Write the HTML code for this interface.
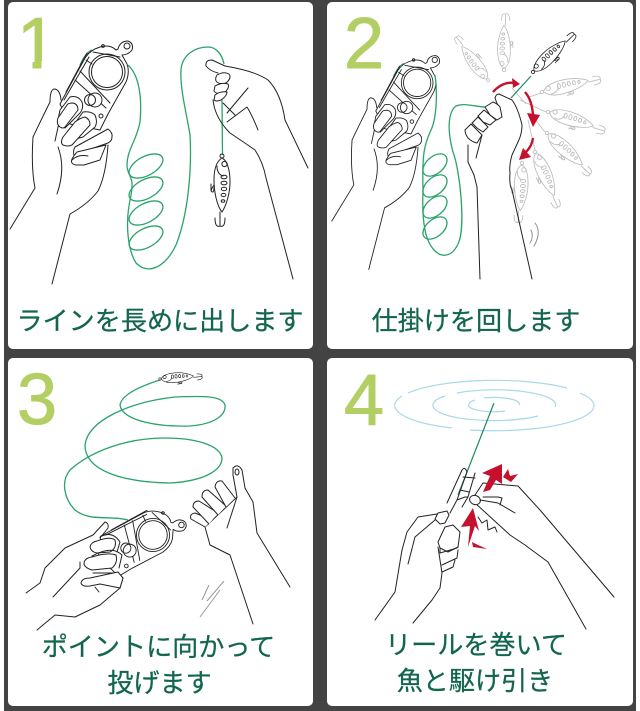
<!DOCTYPE html>
<html><head><meta charset="utf-8"><style>
html,body{margin:0;padding:0;background:#fff}
svg{display:block}
.k{fill:none;stroke:#222;stroke-width:1;stroke-linejoin:round;stroke-linecap:round}
.kf{fill:#fff;stroke:#222;stroke-width:1;stroke-linejoin:round}
.g{fill:none;stroke:#2aa36c;stroke-width:1.3}
.n{font-family:"Liberation Sans",sans-serif;font-size:72px;fill:#b3cf63;stroke:#b3cf63;stroke-width:1}
.t{font-family:"Liberation Sans","Noto Sans CJK JP",sans-serif;font-size:26.1px;fill:#12654f;stroke:#12654f;stroke-width:.25;text-anchor:middle}
.r{fill:#c5112e}
.rl{fill:none;stroke:#c5112e;stroke-width:2.4}
.w{fill:none;stroke:#a9d8e8;stroke-width:1.2}
</style></head><body>
<svg width="640" height="711" viewBox="0 0 640 711" xmlns="http://www.w3.org/2000/svg">
<defs>
<clipPath id="one"><path d="M0,0 H60 V61 H41.5 V75 H32.5 V61 H0 Z"/></clipPath>
<g id="lure">
 <path class="kf" d="M0,2 C6,5 8,16 8,26 C8,38 4,50 0,56 C-5,50 -8,36 -8,24 C-8,12 -5,5 0,2Z"/>
 <circle class="k" cx="0" cy="0" r="2"/>
 <circle class="k" cx="2.5" cy="8" r="2.6"/>
 <path class="k" d="M-5,10 Q-5,18 1,20"/>
 <ellipse class="k" cx="2" cy="21" rx="3" ry="1.8"/><ellipse class="k" cx="2" cy="27" rx="3" ry="1.8"/><ellipse class="k" cx="2" cy="33" rx="2.7" ry="1.7"/><ellipse class="k" cx="1.5" cy="39" rx="2.4" ry="1.6"/><ellipse class="k" cx="1" cy="45" rx="1.8" ry="1.3"/>
 <path class="k" d="M-8,29 Q-13,36 -9,36 Q-8,35 -8,31 M-11,28 L-11,35"/>
 <path class="k" d="M-2,56 L-2,70 M-2,70 Q-7,72 -7,62 M-2,70 Q3,72 3,62 M-2,60 L-2,70"/>
</g>
<g id="reel">
 <path class="kf" d="M60,104 L85,58 Q90,50 100,47 Q110,44 116,50 L118,49 Q120,41 128,41 Q134,43 132,50 Q128,55 122,55 L127,64 Q130,72 126,82 L108,114 L100,130 L70,124 Z"/>
 <path class="k" d="M64,100 L89,57 M87,53 L66,92 M75,80 L106,108 M80,71 L110,103 M86,60 L92,64 M93,52 L120,57"/>
 <circle class="k" cx="107" cy="72" r="18"/>
 <circle class="kf" cx="107" cy="72" r="15.5"/>
 <circle class="k" cx="127" cy="46" r="3"/><circle class="k" cx="103" cy="46" r="1.4"/>
 <circle class="kf" cx="95" cy="100" r="7"/><circle class="k" cx="90" cy="100" r="5.5"/>
 <circle class="k" cx="101" cy="116" r="2"/>
</g>
<g id="hand1">
 <path class="k" d="M10,229 L35,188 Q31,168 33,137 Q43,116 50,102 Q50,90 54,89 Q60,89 61,100"/>
 <path class="k" d="M52,284 L70,214 Q88,204 98,191 Q106,175 108,145"/>
 <path class="k" d="M55,141 L60,118"/>
 <path class="k" d="M58,147 Q66,168 57,194"/>
 <path class="kf" d="M60,110 L70,97 Q78,95 82,102 Q84,108 80,113 L65,128 L58,120 Z"/>
 <path class="kf" d="M58,118 Q56,124 60,127 Q63,129 65,127 L78,110 Q78,104 73,103 Q68,103 67,105 Z"/>
 <path class="kf" d="M72,127 L83,112 Q91,111 95,115 Q98,122 95,127 L83,137 L72,140 Z"/>
 <path class="kf" d="M63,137 Q60,143 63,145 Q68,147 72,145 L90,125 Q90,119 85,117 Q80,118 75,122 Z"/>
 <path class="kf" d="M75,147 L108,129 Q113,133 112,137 Q112,141 108,143 L82,152 L75,158 Q72,152 75,147Z"/>
 <path class="kf" d="M77,152 L106,145 L100,160 L84,165 L76,165 Q70,164 72,159 Q74,155 77,152Z"/>
 <path class="k" d="M72,160 Q78,154 88,156"/>
</g>
</defs>
<rect x="4" y="0" width="632" height="711" fill="#434343"/>
<rect x="8" y="2" width="305" height="347" rx="5" fill="#fff"/>
<rect x="327" y="2" width="306" height="347" rx="5" fill="#fff"/>
<rect x="8" y="358" width="305" height="348" rx="5" fill="#fff"/>
<rect x="327" y="358" width="306" height="348" rx="5" fill="#fff"/>

<text class="n" x="17" y="68" clip-path="url(#one)">1</text>
<text class="n" x="344" y="68">2</text>
<text class="n" x="17" y="424">3</text>
<text class="n" x="344" y="425">4</text>

<text class="t" x="160" y="330">ラインを長めに出します</text>
<text class="t" x="476" y="330">仕掛けを回します</text>
<text class="t" x="158.5" y="656">ポイントに向かって</text>
<text class="t" x="159.5" y="692">投げます</text>
<text class="t" x="476" y="654">リールを巻いて</text>
<text class="t" x="475" y="690">魚と駆け引き</text>

<!-- panel 1 -->
<path class="g" d="M80,65 Q86,52 92,50"/>
<path class="g" d="M128,65 C140,76 142,100 140,122 C136,142 127,150 127,165 C127,178 136,174 130,200 C125,225 128,250 136,263 C148,275 165,268 176,245 C188,215 192,170 190,135 C186,110 180,90 181,70 C182,55 195,47 208,47 C216,47 222,54 224,64"/>
<g class="g">
 <ellipse cx="146" cy="166" rx="18.5" ry="9.5" transform="rotate(-28 146 166)"/>
 <ellipse cx="146" cy="189" rx="18.5" ry="9.5" transform="rotate(-28 146 189)"/>
 <ellipse cx="146" cy="213" rx="18.5" ry="9.5" transform="rotate(-28 146 213)"/>
 <ellipse cx="146" cy="238" rx="18.5" ry="9.5" transform="rotate(-28 146 238)"/>
</g>
<path class="g" d="M222,100 L222.5,155"/>
<use href="#reel"/><use href="#hand1"/>
<path class="k" d="M308,168 L285,120 Q281,93 268,80 Q255,71 225,66 L212,60 Q205,60 206,66 Q210,71 218,73"/>
<path class="kf" d="M217,75 Q224,71 229,74 Q232,78 226,83 Q219,85 216,81 Q215,78 217,75Z"/>
<path class="kf" d="M215,86 Q222,82 228,84 Q230,88 224,93 Q217,95 214,91 Z"/>
<path class="kf" d="M215,95 Q220,91 227,92 Q227,96 221,100 Q216,102 214,100 Z"/>
<path class="k" d="M213,100 Q215,118 230,133 Q245,143 255,150 Q263,162 266,178 L293,279"/>
<path class="k" d="M248,88 L227,113 M258,130 Q252,115 247,107 L227,122 M223,103 L235,115"/>
<use href="#lure" transform="translate(222,156)"/>

<!-- panel 2 -->
<g opacity=".3">
<use href="#lure" transform="translate(488,80) rotate(142) scale(.76)"/>
<use href="#lure" transform="translate(504,70) rotate(180) scale(.8)"/>
<use href="#lure" transform="translate(542,92) rotate(-104) scale(.85)"/>
<use href="#lure" transform="translate(548,112) rotate(-73) scale(.85)"/>
<use href="#lure" transform="translate(547,133) rotate(-48) scale(.85)"/>
<use href="#lure" transform="translate(535,152) rotate(-24) scale(.85)"/>
<use href="#lure" transform="translate(522,163) rotate(2) scale(.85)"/>
<path d="M512,88 L526,104 M529,97 L541,93 M520,100 L546,112 M530,113 L545,132 M528,120 L535,150" fill="none" stroke="#222" stroke-width=".8"/>
</g>
<use href="#lure" transform="translate(533,72) rotate(-134) scale(.8)"/>
<path d="M511,98 L531,76" fill="none" stroke="#1f8a5a" stroke-width="1.2"/>
<g transform="translate(323,19.5) scale(.88)">
<path class="g" d="M80,65 Q86,52 92,50"/>
<use href="#reel"/><use href="#hand1"/>
</g>
<path class="g" d="M435,75 C438,95 436,120 431,130 C424,145 422,155 423,190 C422,215 424,236 431,246 C440,260 452,257 458,244 C466,228 460,170 453,152 C447,130 448,112 456,106 C466,102 476,108 500,108"/>
<g class="g">
 <ellipse cx="435" cy="165" rx="14" ry="8.5" transform="rotate(-40 435 165)"/>
 <ellipse cx="435" cy="186" rx="14" ry="8.5" transform="rotate(-40 435 186)"/>
 <ellipse cx="435" cy="207" rx="14" ry="8.5" transform="rotate(-40 435 207)"/>
 <ellipse cx="435" cy="228" rx="14" ry="8.5" transform="rotate(-40 435 228)"/>
</g>
<path class="k" d="M480,279 L477,187 L474,175 L468,162 L468,145"/>
<path class="k" d="M495,98 Q496,94 499,94 L512,100 Q518,108 522,125 Q522,134 518,142 L512,155 Q509,165 510,173 Q509,185 512,190 L532,279"/>
<path class="k" d="M495,98 L502,117 M482,135 L476,158"/>
<path class="kf" d="M485,107 L493,102 Q498,104 500,107 L502,117 L497,120 L490,115 Z"/>
<path class="kf" d="M478,116 L484,110 L490,115 L496,120 L490,125 L483,122 Z"/>
<path class="kf" d="M472,123 L478,117 L483,122 L488,127 L483,132 L477,128 Z"/>
<path class="kf" d="M465,130 L471,124 L477,130 L482,135 L477,143 Q472,142 468,138 Q465,134 465,130 Z"/>
<path class="rl" d="M493,92 Q503,81 515,83"/>
<path class="r" d="M512,78 L520,84 L513,88Z"/>
<path class="rl" d="M525,92 Q532,100 533,115"/>
<path class="r" d="M527,113 L540,115 L533,127Z"/>
<path class="rl" d="M533,138 Q532,146 526,152"/>
<path class="r" d="M523,148 L531,157 L519,160Z"/>
<path class="k" opacity=".5" d="M535,223 Q542,232 534,246 M531,230 Q534,237 530,243"/>

<!-- panel 3 -->
<path class="g" d="M160,380 Q122,392 120,405 C122,420 155,427 190,426 C215,424 226,415 225,405 C222,395 200,396 175,397 C130,402 88,420 85,445 C85,470 120,482 170,483 C205,481 222,470 222,458 C220,445 195,438 165,438 C125,438 90,452 70,470 C60,482 65,500 75,510 C90,522 110,515 128,520"/>
<use href="#lure" transform="translate(160,379) rotate(-95) scale(.6)"/>
<path class="k" d="M26,593 L40,583 L45,568 L65,548 L93,535 L105,522 Q109,523 108,528 L100,538"/>
<g transform="translate(153,535) rotate(33) scale(.92) translate(-107,-72)"><use href="#reel"/></g>
<path class="k" d="M37,630 L55,615 L75,617 L100,605 L120,588 L123,578 L118,573 L93,573"/>
<path class="k" d="M53,597 L80,568 L80,562"/>
<path class="k" d="M95,587 L99,592"/>
<path class="kf" d="M90,547 Q91,542 97,541 Q110,536 115,540 Q117,548 110,552 L97,553 Q91,552 90,547Z"/>
<path class="k" d="M100,537 Q112,530 120,542 L117,552"/>
<path class="kf" d="M84,564 Q84,558 92,557 Q108,552 116,555 Q118,563 112,568 L92,570 Q85,568 84,564Z"/>
<path class="k" d="M92,556 Q112,545 122,555 L119,568"/>
<path class="kf" d="M81,583 Q82,578 90,578 L118,572 L123,578 L120,588 L100,584 L90,586 Q82,587 81,583Z"/>
<path class="k" d="M290,587 L257,533 L253,502 L245,488 L242,470 Q238,463 233,468 L233,475 L237,497 L227,528"/>
<path class="k" d="M253,624 L230,555 L210,545 L205,527 M205,527 L237,497"/>
<path class="kf" d="M205,527 L191,519 Q189,514 195,513 L212,520"/>
<path class="kf" d="M209,524 L193,507 Q193,501 199,501 L218,513"/>
<path class="kf" d="M218,515 L202,497 Q202,490 208,490 L226,506"/>
<path class="kf" d="M226,507 L215,487 Q216,480 222,481 L235,498"/>
<ellipse class="k" cx="237" cy="472" rx="2" ry="3"/>
<path d="M224,581 L207,601 M209,585 L202,600 M220,590 L200,617" fill="none" stroke="#999" stroke-width="1"/>

<!-- panel 4 -->
<path class="w" d="M408,393 A100,25 0 0 1 567,388 M580,393 A100,25 0 0 1 470,430 M452,428 A100,25 0 0 1 402,396 M457,393 A61,15 0 0 1 555,407 M538,416 A61,15 0 0 1 433,405 A61,15 0 0 1 445,396 M484,398 A25,6.5 0 0 1 519,405 M505,411 A25,6.5 0 0 1 469,404 A25,6.5 0 0 1 475,400"/>
<path d="M494,403 L458,495" fill="none" stroke="#1f8a5a" stroke-width="1.2"/>
<path class="k" d="M447,503 L462,470 Q465,466 467,472 L457,500 M457,500 L465,497 L468,497 L475,473 M463,477 L475,478 M460,490 L469,492 M468,497 L462,507 M450,513 L457,500"/>
<path class="k" d="M375,620 L395,592 L402,550 L407,532 L418,517 L437,514"/>
<path class="k" d="M408,564 L415,537 L435,520"/>
<path class="k" d="M413,623 L432,600 L440,588 L442,573 L438,547"/>
<path class="kf" d="M435,519 L438,513 L447,511 L449,515 L445,523 L440,524Z"/>
<path class="kf" d="M438,542 L445,527 L453,525 L460,532 L458,547 L448,552 L440,548Z"/>
<path class="k" d="M440,548 L440,553 L457,548 M458,550 L457,558 L442,565 M455,560 L453,567 L442,572"/>
<path class="k" d="M475,495 L483,483 L518,486 L540,510 L614,597"/>
<path class="k" d="M586,629 L548,562 L525,545 L510,535 L475,503"/>
<ellipse class="kf" cx="475" cy="500" rx="5.5" ry="4.5" transform="rotate(20 475 500)"/>
<path class="k" d="M483,497 L498,497 L502,498 L500,505 M480,500 L498,503 L515,513"/>
<path class="k" d="M478,517 L482,523 L487,520 L488,530 L495,527 L497,532"/>
<path class="r" d="M502,464 L482,473 L490,476 L483,492 L490,490 L496,480 L502,484Z"/>
<path class="r" d="M508,469 L510,476 L518,474 L511,482 L503,477Z"/>
<path class="r" d="M473,508 L461,527 L470,526 L468,547 L475,526 L479,531Z"/>
<path class="r" d="M485,538 L478,545 L487,549 L473,547 L472,542 L478,545Z"/>
</svg>
</body></html>
